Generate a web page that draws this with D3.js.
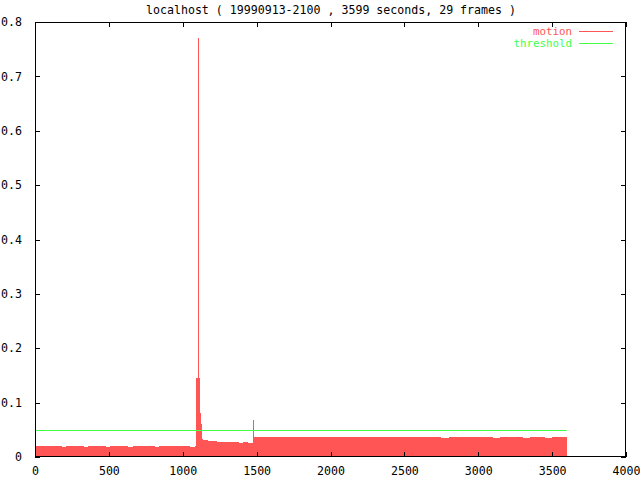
<!DOCTYPE html>
<html>
<head>
<meta charset="utf-8">
<script src="https://cdn.jsdelivr.net/npm/d3@7"></script>
<style>
  html, body { margin: 0; padding: 0; background: #fff; }
  svg { display: block; }
  text { font-family: "DejaVu Sans Mono", "Liberation Mono", monospace; font-size: 11.6px; }
</style>
</head>
<body>
<script>
// ---- data ----
const chartTitle = "localhost ( 19990913-2100 , 3599 seconds, 29 frames )";
const seriesNames = ["motion", "threshold"];
const xTicks = [0, 500, 1000, 1500, 2000, 2500, 3000, 3500, 4000];
const yTicks = [0, 0.1, 0.2, 0.3, 0.4, 0.5, 0.6, 0.7, 0.8];
const yTickLabels = ["0", "0.1", "0.2", "0.3", "0.4", "0.5", "0.6", "0.7", "0.8"];

// sample start times (seconds) and motion values
const motionTime = [
  0, 30, 60, 90, 120, 150, 180, 210, 240, 270, 300, 330, 360, 390, 420, 450, 480, 510,
  540, 570, 600, 630, 660, 690, 720, 750, 780, 810, 840, 870, 900, 930, 960, 990, 1020, 1050, 1080,
  1093, 1101, 1107, 1111, 1117, 1124, 1131,
  1140, 1170, 1200, 1230, 1260, 1290, 1320, 1350, 1380, 1410, 1440, 1470,
  1476, 1482,
  1500, 1550, 1600, 1650, 1700, 1750, 1800, 1850, 1900, 1950, 2000, 2050, 2100, 2150,
  2200, 2250, 2300, 2350, 2400, 2450, 2500, 2550, 2600, 2650, 2700, 2750, 2800, 2850,
  2900, 2950, 3000, 3050, 3100, 3150, 3200, 3250, 3300, 3350, 3400, 3450, 3500, 3550
];
const motionValue = [
  0.021, 0.020, 0.021, 0.020, 0.020, 0.021, 0.019, 0.020, 0.021, 0.020, 0.020, 0.019, 0.020, 0.021, 0.020, 0.020, 0.019, 0.020,
  0.020, 0.021, 0.020, 0.019, 0.020, 0.021, 0.020, 0.020, 0.020, 0.019, 0.021, 0.020, 0.020, 0.021, 0.020, 0.020, 0.020, 0.019, 0.021,
  0.145, 0.770, 0.145, 0.108, 0.081, 0.060, 0.034,
  0.031, 0.030, 0.029, 0.028, 0.028, 0.027, 0.028, 0.027, 0.026, 0.027, 0.026, 0.026,
  0.068, 0.036,
  0.036, 0.037, 0.036, 0.036, 0.037, 0.036, 0.036, 0.037, 0.036, 0.036, 0.037, 0.036, 0.037, 0.036,
  0.036, 0.037, 0.036, 0.036, 0.037, 0.036, 0.037, 0.036, 0.036, 0.037, 0.036, 0.035, 0.036, 0.036,
  0.036, 0.037, 0.036, 0.036, 0.035, 0.036, 0.036, 0.036, 0.035, 0.036, 0.036, 0.035, 0.036, 0.036
];
const motionEnd = 3599;
const thresholdValue = 0.05;
const thresholdRange = [0, 3599];

// ---- layout ----
const W = 640, H = 480;
const M = { left: 35, right: 14, top: 22, bottom: 23 };
const colors = { motion: "#ff5555", threshold: "#44ff44" };

const svg = d3.select("body").append("svg").attr("width", W).attr("height", H);

const x = d3.scaleLinear().domain([0, 4000]).range([M.left, W - M.right]);
const y = d3.scaleLinear().domain([0, 0.8]).range([H - M.bottom, M.top]);

// motion bars
const bars = motionTime.map((t, i) => ({
  t0: t,
  t1: i + 1 < motionTime.length ? motionTime[i + 1] : motionEnd,
  v: motionValue[i]
}));
svg.append("g").selectAll("rect").data(bars).join("rect")
  .attr("x", d => x(d.t0))
  .attr("width", d => Math.max(1, x(d.t1) - x(d.t0)))
  .attr("y", d => y(d.v))
  .attr("height", d => y(0) - y(d.v))
  .attr("fill", colors.motion)
  .attr("shape-rendering", "crispEdges");

// threshold line
svg.append("line")
  .attr("x1", x(thresholdRange[0])).attr("x2", x(thresholdRange[1]))
  .attr("y1", Math.round(y(thresholdValue)) + 0.5).attr("y2", Math.round(y(thresholdValue)) + 0.5)
  .attr("stroke", colors.threshold).attr("stroke-width", 1);

// frame
svg.append("rect")
  .attr("x", M.left + 0.5).attr("y", M.top + 0.5)
  .attr("width", W - M.left - M.right - 1).attr("height", H - M.top - M.bottom - 1)
  .attr("fill", "none").attr("stroke", "#000").attr("stroke-width", 1)
  .attr("shape-rendering", "crispEdges");

const tickLen = 5;
// axes via d3 axis generators (inward ticks, mirrored)
const xAxisB = d3.axisBottom(x).tickValues(xTicks).tickSize(-tickLen).tickPadding(tickLen + 5).tickFormat(d3.format("d"));
const xAxisT = d3.axisTop(x).tickValues(xTicks).tickSize(-tickLen).tickFormat("");
const yAxisL = d3.axisLeft(y).tickValues(yTicks).tickSize(-tickLen).tickPadding(tickLen + 8).tickFormat((d, i) => yTickLabels[i]);
const yAxisR = d3.axisRight(y).tickValues(yTicks).tickSize(-tickLen).tickFormat("");

function styleAxis(g) {
  g.select(".domain").remove();
  g.selectAll("line").attr("stroke", "#000").attr("shape-rendering", "crispEdges");
  g.selectAll("text").attr("fill", "#000")
    .style("font-family", '"DejaVu Sans Mono", "Liberation Mono", monospace')
    .style("font-size", "11.6px");
}
svg.append("g").attr("transform", `translate(0,${H - M.bottom})`).call(xAxisB).call(styleAxis);
svg.append("g").attr("transform", `translate(0,${M.top})`).call(xAxisT).call(styleAxis);
svg.append("g").attr("transform", `translate(${M.left},0)`).call(yAxisL).call(styleAxis);
svg.append("g").attr("transform", `translate(${W - M.right},0)`).call(yAxisR).call(styleAxis);

// title
svg.append("text").attr("x", 331).attr("y", 14).attr("text-anchor", "middle")
  .attr("fill", "#000").text(chartTitle);

// legend
const legend = svg.append("g");
seriesNames.forEach((name, i) => {
  const ly = 31 + i * 12;
  legend.append("text").attr("x", 572).attr("y", ly + 3.5).attr("text-anchor", "end")
    .style("font-size", "10.8px")
    .attr("fill", colors[name]).text(name);
  legend.append("line").attr("x1", 579).attr("x2", 613)
    .attr("y1", ly + 0.5).attr("y2", ly + 0.5)
    .attr("stroke", colors[name]).attr("stroke-width", 1);
});
</script>
</body>
</html>
